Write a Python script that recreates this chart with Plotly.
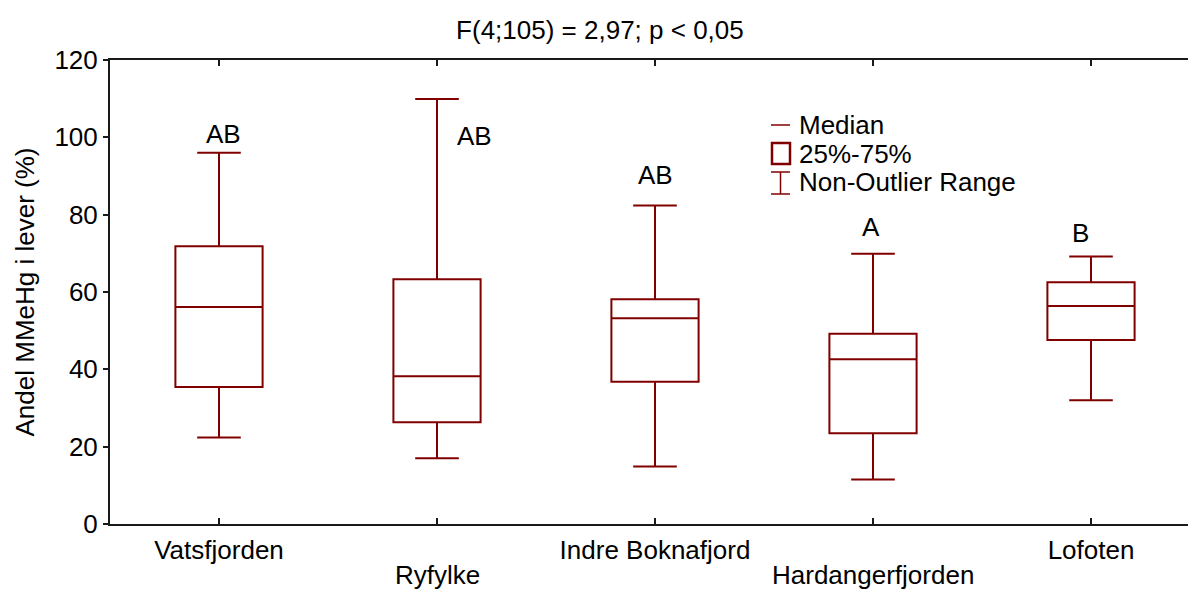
import plotly.graph_objects as go

categories = ["Vatsfjorden", "Ryfylke", "Indre Boknafjord", "Hardangerfjorden", "Lofoten"]
q1 = [35.4, 26.3, 36.8, 23.5, 47.6]
median = [56.1, 38.2, 53.2, 42.6, 56.4]
q3 = [71.8, 63.3, 58.1, 49.2, 62.5]
lower_whisker = [22.4, 17.0, 14.9, 11.5, 32.0]
upper_whisker = [96.0, 109.9, 82.4, 69.9, 69.2]
letters = ["AB", "AB", "AB", "A", "B"]
letter_x = [0.02, 1.17, 2.0, 2.99, 3.95]
letter_y = [100.8, 100.3, 90.3, 76.7, 75.3]
y_ticks = [0, 20, 40, 60, 80, 100, 120]

W, H = 1188, 592
ML, MR, MT, MB = 110, 0, 60, 68
FONT = "Liberation Sans, Arial, sans-serif"
FS = 26
RED = "#800000"

xpos = list(range(len(categories)))
# first row of category labels as tick labels; staggered second row as annotations
ticktext = [c if i % 2 == 0 else "" for i, c in enumerate(categories)]

fig = go.Figure()
fig.add_trace(go.Box(
    x=xpos, q1=q1, median=median, q3=q3,
    lowerfence=lower_whisker, upperfence=upper_whisker,
    width=0.4, whiskerwidth=0.5, boxpoints=False,
    line=dict(color=RED, width=2), fillcolor="rgba(255,255,255,0)",
    showlegend=False,
))

pw, ph = W - ML - MR, H - MT - MB
def px(x):
    return (x - ML) / pw
def py(y):
    return (H - MB - y) / ph

annotations = []
for i, c in enumerate(categories):
    if i % 2 == 1:
        annotations.append(dict(x=xpos[i], y=py(591), xref="x", yref="paper", text=c, showarrow=False,
                                font=dict(family=FONT, size=FS, color="black"),
                                xanchor="center", yanchor="bottom", borderpad=0))
for lx, ly, t in zip(letter_x, letter_y, letters):
    annotations.append(dict(x=lx, y=ly, xref="x", yref="y", text=t, showarrow=False,
                            font=dict(family=FONT, size=FS, color="black"),
                            xanchor="center", yanchor="middle"))

shapes = []
# legend: median
shapes.append(dict(type="line", xref="paper", yref="paper", x0=px(771), x1=px(790), y0=py(125), y1=py(125),
                   line=dict(color=RED, width=1.5)))
# legend: box
shapes.append(dict(type="rect", xref="paper", yref="paper", x0=px(772), x1=px(790), y0=py(143), y1=py(164),
                   line=dict(color=RED, width=2.5)))
# legend: whisker
for yy in (172, 194):
    shapes.append(dict(type="line", xref="paper", yref="paper", x0=px(771), x1=px(790), y0=py(yy), y1=py(yy),
                       line=dict(color=RED, width=1.5)))
shapes.append(dict(type="line", xref="paper", yref="paper", x0=px(780.5), x1=px(780.5), y0=py(172), y1=py(194),
                   line=dict(color=RED, width=1.5)))
for t, yy in (("Median", 125), ("25%-75%", 153.5), ("Non-Outlier Range", 182)):
    annotations.append(dict(x=px(797), y=py(yy), xref="paper", yref="paper", text=t, showarrow=False,
                            font=dict(family=FONT, size=FS, color="black"), xanchor="left", yanchor="middle"))

fig.update_layout(
    width=W, height=H,
    margin=dict(l=ML, r=MR, t=MT, b=MB, pad=0),
    paper_bgcolor="white", plot_bgcolor="white",
    font=dict(family=FONT, size=FS, color="black"),
    title=dict(text="F(4;105) = 2,97; p < 0,05", x=0.505, xref="container", xanchor="center",
               y=1 - 30 / H, yref="container", yanchor="middle", font=dict(family=FONT, size=FS, color="black")),
    xaxis=dict(range=[-0.5, (W - MR - ML) / 218 - 0.5], tickvals=xpos, ticktext=ticktext,
               showline=True, linecolor="#1a1a1a", linewidth=2, mirror="ticks",
               ticks="inside", ticklen=6, tickwidth=1.5, tickcolor="#1a1a1a", automargin=False,
               ticklabelstandoff=2,
               showgrid=False, zeroline=False, tickfont=dict(family=FONT, size=FS, color="black")),
    yaxis=dict(range=[0, 120], tickvals=y_ticks, showline=True, linecolor="#1a1a1a", linewidth=2,
               ticks="outside", ticklen=5, tickwidth=1.5, tickcolor="#1a1a1a", automargin=False,
               showgrid=False, zeroline=False, tickfont=dict(family=FONT, size=FS, color="black"),
               title=dict(text="Andel MMeHg i lever (%)", standoff=12, font=dict(family=FONT, size=FS, color="black"))),
    annotations=annotations,
    shapes=shapes,
)

fig.write_html("out.html")
